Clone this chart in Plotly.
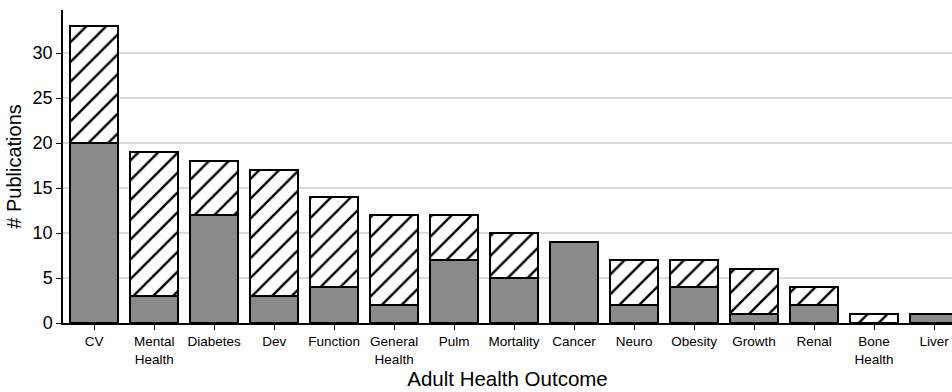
import plotly.graph_objects as go

# Publications per adult health outcome
categories = ["CV", "Mental<br>Health", "Diabetes", "Dev", "Function", "General<br>Health",
              "Pulm", "Mortality", "Cancer", "Neuro", "Obesity", "Growth", "Renal",
              "Bone<br>Health", "Liver"]
solid_counts = [20, 3, 12, 3, 4, 2, 7, 5, 9, 2, 4, 1, 2, 0, 1]
hatched_counts = [13, 16, 6, 14, 10, 10, 5, 5, 0, 5, 3, 5, 2, 1, 0]
y_ticks = [0, 5, 10, 15, 20, 25, 30]

FONT = "Liberation Sans, Arial, sans-serif"

fig = go.Figure()
fig.add_trace(go.Bar(
    x=categories, y=solid_counts,
    marker=dict(color="#8a8a8a", line=dict(color="black", width=1.5)),
    showlegend=False,
))
fig.add_trace(go.Bar(
    x=categories, y=hatched_counts,
    marker=dict(
        color="white",
        line=dict(color="black", width=1.5),
        pattern=dict(shape="/", fgcolor="black", fgopacity=1, bgcolor="white",
                     fillmode="replace", size=14, solidity=0.17),
    ),
    showlegend=False,
))

fig.update_layout(
    barmode="stack",
    bargap=0.2,
    width=952, height=392,
    margin=dict(l=63, r=0, t=10, b=69),
    plot_bgcolor="white", paper_bgcolor="white",
    font=dict(family=FONT, color="black"),
)
fig.update_xaxes(
    range=[-0.52, 14.3],
    showline=True, linecolor="black", linewidth=1.5,
    ticks="outside", ticklen=5, tickcolor="black",
    tickfont=dict(size=13.5),
    title=dict(text="Adult Health Outcome", font=dict(size=20.5), standoff=6),
)
fig.update_yaxes(
    range=[0, 34.8],
    tickvals=y_ticks,
    showline=True, linecolor="black", linewidth=1.5,
    ticks="outside", ticklen=5, tickcolor="black",
    tickfont=dict(size=18),
    showgrid=True, gridcolor="#d9d9d9", gridwidth=1.5,
    zeroline=False,
    title=dict(text="# Publications", font=dict(size=20), standoff=6),
)

fig.write_html("out.html")
